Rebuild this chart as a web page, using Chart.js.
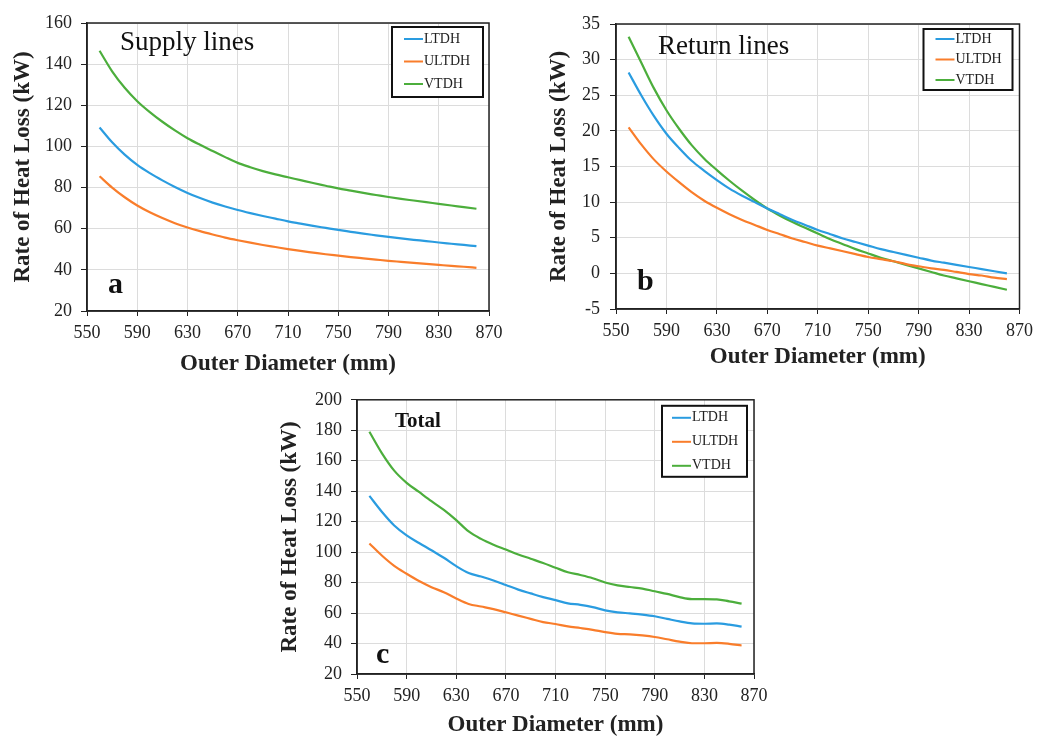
<!DOCTYPE html>
<html>
<head>
<meta charset="utf-8">
<title>Rate of heat loss vs outer diameter</title>
<script src="https://cdn.jsdelivr.net/npm/chart.js@4.4.1/dist/chart.umd.min.js"></script>
<style>
  body { margin: 0; background: #fff; }
  #wrap { position: relative; width: 1039px; height: 736px; overflow: hidden; }
  canvas { position: absolute; }
</style>
</head>
<body>
<div id="wrap">
  <canvas id="supply-chart" width="520" height="380" style="left:0;top:0"></canvas>
  <canvas id="return-chart" width="519" height="380" style="left:520px;top:0"></canvas>
  <canvas id="total-chart" width="520" height="356" style="left:270px;top:380px"></canvas>
</div>
<script>
// outer diameter (mm)
const diameters = [560, 570, 580, 590, 600, 610, 620, 630, 640, 650, 660, 670, 680, 690, 700, 710,
  720, 730, 740, 750, 760, 770, 780, 790, 800, 810, 820, 830, 840, 850, 860];

const seriesNames = ['LTDH', 'ULTDH', 'VTDH'];
const xTicks = [550, 590, 630, 670, 710, 750, 790, 830, 870];

// a - supply lines (kW)
const supplyLtdh = [109.2, 102, 96, 91, 87, 83.5, 80.3, 77.4, 74.9, 72.7, 70.8, 69.1, 67.6, 66.2, 64.9, 63.6,
  62.5, 61.4, 60.4, 59.4, 58.5, 57.6, 56.8, 56.0, 55.3, 54.6, 54.0, 53.3, 52.7, 52.1, 51.5];
const supplyUltdh = [85.5, 80, 75.3, 71.3, 68, 65.2, 62.7, 60.6, 58.8, 57.2, 55.7, 54.4, 53.2, 52.1, 51.1, 50.1,
  49.2, 48.4, 47.6, 46.9, 46.2, 45.6, 45.0, 44.4, 43.9, 43.4, 42.9, 42.4, 41.9, 41.5, 41.0];
const supplyVtdh = [146.5, 136.5, 128.5, 122, 116.7, 112, 107.8, 104, 100.8, 97.8, 94.8, 92, 89.9, 88.0, 86.4, 85.0,
  83.6, 82.2, 80.9, 79.6, 78.5, 77.4, 76.4, 75.4, 74.5, 73.7, 72.9, 72.1, 71.3, 70.5, 69.7];

// b - return lines (kW)
const returnLtdh = [28.2, 25.0, 22.1, 19.6, 17.6, 15.8, 14.4, 13.1, 11.9, 10.9, 10.0, 9.1, 8.3, 7.5, 6.8, 6.1,
  5.5, 4.9, 4.4, 3.9, 3.4, 3.0, 2.6, 2.2, 1.8, 1.5, 1.2, 0.9, 0.6, 0.3, 0.0];
const returnUltdh = [20.5, 18.1, 16.0, 14.3, 12.8, 11.4, 10.2, 9.2, 8.3, 7.5, 6.8, 6.1, 5.5, 4.9, 4.4, 3.9,
  3.5, 3.1, 2.7, 2.3, 2.0, 1.7, 1.3, 1.0, 0.7, 0.5, 0.2, -0.1, -0.3, -0.6, -0.8];
const returnVtdh = [33.2, 29.6, 26.0, 22.9, 20.3, 18.0, 16.1, 14.5, 13.0, 11.6, 10.3, 9.1, 8.1, 7.2, 6.4, 5.6,
  4.8, 4.1, 3.4, 2.8, 2.2, 1.7, 1.2, 0.7, 0.2, -0.3, -0.7, -1.1, -1.5, -1.9, -2.3];

// c - total (kW)
const totalLtdh = [136.9, 126.5, 117.5, 111, 106, 101.2, 96.3, 90.8, 86.3, 84, 81.4, 78.4, 75.4, 72.9, 70.5, 68.5,
  66.4, 65.4, 63.9, 61.8, 60.5, 59.8, 59, 57.9, 56.2, 54.5, 53.2, 53, 53.2, 52.4, 51.1];
const totalUltdh = [105.7, 97.8, 91, 85.8, 81, 77, 73.7, 69.6, 66, 64.3, 62.6, 60.5, 58.3, 56.2, 54.1, 52.8,
  51.3, 50.2, 49, 47.5, 46.4, 46, 45.3, 44.3, 42.8, 41.3, 40.2, 40.2, 40.4, 39.8, 38.7];
const totalVtdh = [179, 165, 153.5, 145.5, 139.5, 133.5, 127.7, 121, 113.6, 108.7, 104.9, 101.7, 98.5, 95.7, 92.9, 89.8,
  86.8, 85, 82.9, 80.1, 78.2, 77.1, 76.1, 74.3, 72.6, 70.5, 69.2, 69.2, 69, 67.7, 66.2];

const colors = ['#2a9ce0', '#f97d2b', '#4cae3c'];
const ink = '#222';
const serif = '"Liberation Serif", "Times New Roman", serif';

// frame, heading, panel letter and boxed legend inside the plot
const panelDecor = {
  id: 'panelDecor',
  afterDraw(chart, args, o) {
    const { ctx, chartArea: a } = chart;
    ctx.save();
    ctx.strokeStyle = ink;
    ctx.lineWidth = 1.5;
    ctx.strokeRect(a.left, a.top, a.width, a.height);

    ctx.fillStyle = '#111';
    ctx.textAlign = 'left';
    ctx.textBaseline = 'alphabetic';
    ctx.font = o.headingFont;
    ctx.fillText(o.heading, a.left + o.headingX, a.top + o.headingY);
    ctx.font = 'bold 30px ' + serif;
    ctx.fillText(o.letter, a.left + o.letterX, a.bottom + o.letterY);

    const lg = o.legend;
    const bx = a.right - lg.right - lg.width;
    const by = a.top + lg.top;
    ctx.fillStyle = '#fff';
    ctx.fillRect(bx, by, lg.width, lg.height);
    ctx.strokeStyle = '#111';
    ctx.lineWidth = 2;
    ctx.strokeRect(bx, by, lg.width, lg.height);
    ctx.font = '14px ' + serif;
    ctx.textBaseline = 'middle';
    chart.data.datasets.forEach((ds, i) => {
      const y = by + lg.first + i * lg.gap;
      ctx.strokeStyle = ds.borderColor;
      ctx.lineWidth = 2;
      ctx.beginPath();
      ctx.moveTo(bx + lg.inset, y);
      ctx.lineTo(bx + lg.inset + 19, y);
      ctx.stroke();
      ctx.fillStyle = '#222';
      ctx.fillText(ds.label, bx + lg.inset + 20, y);
    });
    ctx.restore();
  }
};

function makeDatasets(values) {
  return values.map((vals, i) => ({
    label: seriesNames[i],
    data: diameters.map((d, j) => ({ x: d, y: vals[j] })),
    borderColor: colors[i],
    backgroundColor: colors[i],
    borderWidth: 2.2,
    pointRadius: 0,
    fill: false,
    cubicInterpolationMode: 'monotone',
  }));
}

function makeChart(id, values, cfg) {
  return new Chart(document.getElementById(id), {
    type: 'line',
    data: { datasets: makeDatasets(values) },
    options: {
      responsive: false,
      animation: false,
      events: [],
      layout: { padding: { left: 0, top: cfg.top, right: cfg.right, bottom: 0 } },
      plugins: {
        legend: { display: false },
        tooltip: { enabled: false },
        panelDecor: cfg.decor,
      },
      scales: {
        x: {
          type: 'linear',
          min: 550,
          max: 870,
          afterBuildTicks: (scale) => { scale.ticks = xTicks.map(v => ({ value: v })); },
          ticks: { color: ink, padding: 6, maxRotation: 0, font: { family: serif, size: 18 } },
          grid: { color: '#dcdcdc', tickColor: ink, tickLength: 5 },
          border: { color: ink, width: 1.5 },
          title: {
            display: true,
            text: 'Outer Diameter (mm)',
            color: ink,
            font: { family: serif, size: 23, weight: 'bold', lineHeight: 1 },
            padding: { top: 0, bottom: cfg.xTitlePad },
          },
          afterFit: (scale) => { scale.height = cfg.xHeight; },
        },
        y: {
          min: cfg.yMin,
          max: cfg.yMax,
          afterBuildTicks: (scale) => { scale.ticks = cfg.yTicks.map(v => ({ value: v })); },
          ticks: { color: ink, padding: cfg.yTickPad, font: { family: serif, size: 18 } },
          grid: { color: '#dcdcdc', tickColor: ink, tickLength: 6 },
          border: { color: ink, width: 1.5 },
          title: {
            display: true,
            text: 'Rate of Heat Loss (kW)',
            color: ink,
            font: { family: serif, size: 23, weight: 'bold', lineHeight: 1 },
            padding: { top: cfg.yTitlePad, bottom: 0 },
          },
          afterFit: (scale) => { scale.width = cfg.yWidth; },
        },
      },
    },
    plugins: [panelDecor],
  });
}

makeChart('supply-chart', [supplyLtdh, supplyUltdh, supplyVtdh], {
  top: 23, right: 31, xHeight: 69, yWidth: 87, yMin: 20, yMax: 160,
  yTicks: [20, 40, 60, 80, 100, 120, 140, 160],
  yTickPad: 9, yTitlePad: 12, xTitlePad: 4,
  decor: {
    heading: 'Supply lines', headingFont: '27px ' + serif, headingX: 33, headingY: 27,
    letter: 'a', letterX: 21, letterY: -18,
    legend: { width: 91, height: 70, right: 6, top: 4, inset: 12, first: 12, gap: 22.5 },
  },
});

makeChart('return-chart', [returnLtdh, returnUltdh, returnVtdh], {
  top: 24, right: 17, xHeight: 71, yWidth: 96, yMin: -5, yMax: 35,
  yTicks: [-5, 0, 5, 10, 15, 20, 25, 30, 35],
  yTickPad: 10, yTitlePad: 28, xTitlePad: 11,
  decor: {
    heading: 'Return lines', headingFont: '27px ' + serif, headingX: 42, headingY: 30,
    letter: 'b', letterX: 21, letterY: -19,
    legend: { width: 89, height: 61, right: 7, top: 5, inset: 12, first: 10, gap: 20.5 },
  },
});

makeChart('total-chart', [totalLtdh, totalUltdh, totalVtdh], {
  top: 13, right: 36, xHeight: 62, yWidth: 87, yMin: 20, yMax: 200,
  yTicks: [20, 40, 60, 80, 100, 120, 140, 160, 180, 200],
  yTickPad: 9, yTitlePad: 9, xTitlePad: -1,
  decor: {
    heading: 'Total', headingFont: 'bold 21px ' + serif, headingX: 38, headingY: 27,
    letter: 'c', letterX: 19, letterY: -11,
    legend: { width: 85, height: 71, right: 7, top: 6, inset: 10, first: 12, gap: 24 },
  },
});
</script>
</body>
</html>
